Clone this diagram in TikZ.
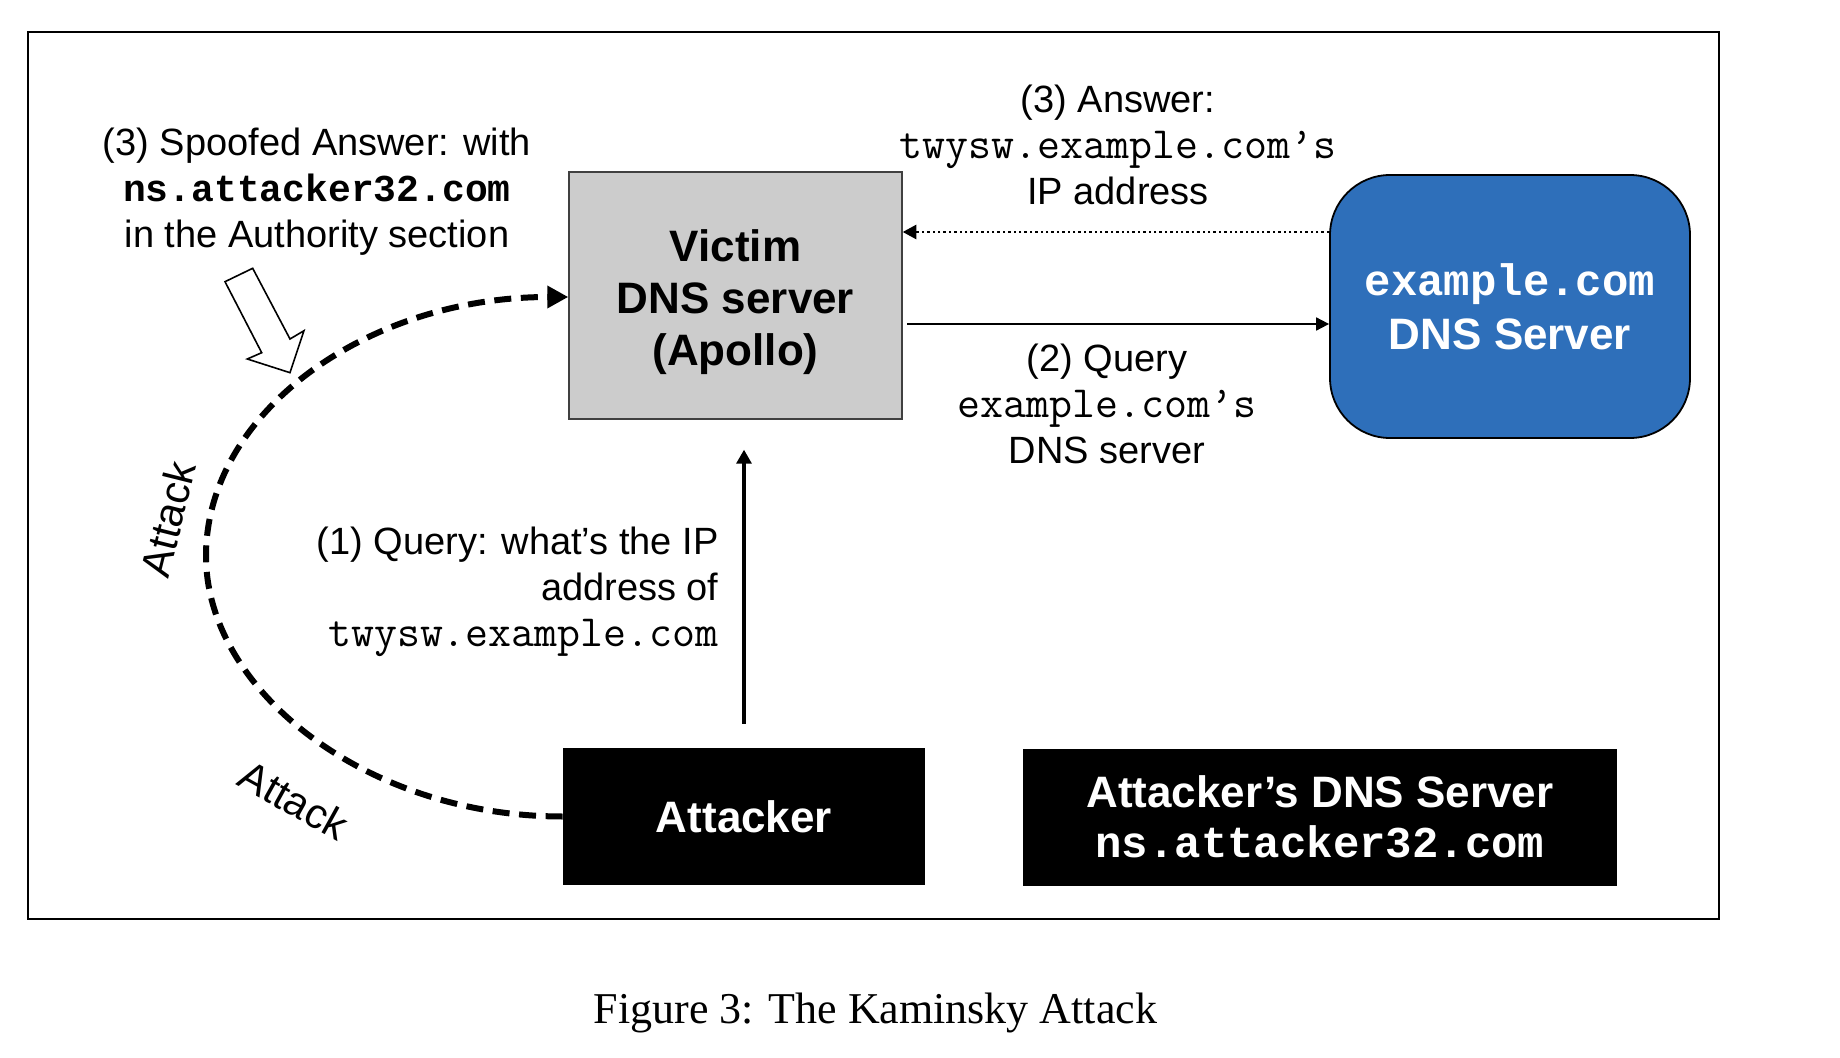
\documentclass[tikz,border=0pt]{standalone}
\usepackage{fontspec}
\newfontfamily\arialf{Liberation Sans}
\newfontfamily\courbf{Liberation Mono}
\newfontfamily\timesf{Liberation Serif}
\newcommand{\cmono}{\ttfamily\fontsize{22.3}{23}\selectfont}
\usetikzlibrary{arrows.meta}
\definecolor{vgray}{HTML}{CCCCCC}
\definecolor{eblue}{HTML}{2E6FBA}
\tikzset{
  boxbase/.style={align=center, inner sep=0pt, font=\arialf\bfseries\fontsize{22}{26}\selectfont},
  victimbox/.style={draw=black!75, fill=vgray, line width=0.7pt, minimum width=166.5pt, minimum height=123.5pt, inner sep=0pt},
  exbox/.style={boxbase, draw=black, fill=eblue, text=white, line width=0.9pt, rounded corners=30pt, minimum width=180pt, minimum height=131.5pt, font=\arialf\bfseries\fontsize{22}{27}\selectfont},
  blackbox/.style={boxbase, fill=black, text=white, minimum width=181pt, minimum height=68.5pt, font=\arialf\bfseries\fontsize{22}{25}\selectfont},
  lbl/.style={align=center, inner sep=0pt, font=\arialf\fontsize{19}{23}\selectfont},
  atk/.style={inner sep=0pt, font=\arialf\fontsize{21}{24}\selectfont},
  solidarrow/.style={line width=0.9pt, -{Triangle[length=6.5pt, width=6.5pt]}},
  dotarrow/.style={line width=1.3pt, dash pattern=on 1.2pt off 1.5pt, -{Triangle[length=6.8pt, width=7pt]}},
  uparrow/.style={line width=1.6pt, -{Triangle[length=7pt, width=7.5pt]}},
  attackcurve/.style={line width=3pt, dash pattern=on 8.5pt off 4.8pt, -{Triangle[length=10.5pt, width=10.7pt]}},
}
\begin{document}
\begin{tikzpicture}[x=0.5pt, y=-0.5pt]
\useasboundingbox (0,0) rectangle (1840,1058);
\fill[white] (0,0) rectangle (1840,1058);
\draw[line width=0.75pt] (28,32) rectangle (1719,919);

\node[victimbox] (victim) at (735.5,295.5) {};
\node[boxbase] (victimtext) at ([yshift=-3.5pt]victim.center) {Victim\\DNS server\\(Apollo)};
\node[exbox] (example) at (1510,306.5) {{\courbf\bfseries example.com}\\DNS Server};
\node[blackbox] (attacker) at (744,816.5) {Attacker};
\node[blackbox, minimum width=297pt] (adns) at (1320,817) {Attacker’s DNS Server\\{\courbf\bfseries ns.attacker32.com}};

\node[lbl] (spoof) at (317,192) {(3) Spoofed Answer: with\\{\courbf\bfseries ns.attacker32.com}\\in the Authority section};
\node[lbl] (ans) at (1118,145) {(3) Answer:\\{\cmono twysw.example.com’s}\\IP address};
\node[lbl] (q2) at (1107,404) {(2) Query\\{\cmono example.com’s}\\DNS server};
\node[lbl, align=right, anchor=east] (q1) at (719,591.5) {(1) Query: what’s the IP\\address of\\{\cmono twysw.example.com}};

\coordinate (yA) at (0,232);
\coordinate (yQ) at (0,324);
\coordinate (yT) at (0,297);
\draw[dotarrow] (example.west |- yA) -- (victim.east |- yA);
\draw[solidarrow, shorten <=2.3pt] (victim.east |- yQ) -- (example.west |- yQ);
\draw[uparrow, shorten <=12pt, shorten >=15pt] (attacker.north) -- (attacker.north |- victim.south);

\draw[attackcurve] (attacker.west) .. controls (366,816.5) and (206,690) .. (206,556)
  .. controls (206,413) and (366,297) .. (victim.west |- yT);

\node[atk, rotate=76] (atk1) at (168,519) {Attack};
\node[atk, rotate=-29] (atk2) at (294,800) {Attack};

\draw[line width=0.8pt, fill=white, line join=miter] (225,281.7) -- (252.7,268.3) -- (290,339) -- (304,330.7) -- (290,372.7) -- (247.3,359) -- (261.7,352.7) -- cycle;

\node[font=\timesf\fontsize{22}{26}\selectfont, inner sep=0pt] (cap) at (875.5,1013) {Figure 3: The Kaminsky Attack};
\end{tikzpicture}
\end{document}
